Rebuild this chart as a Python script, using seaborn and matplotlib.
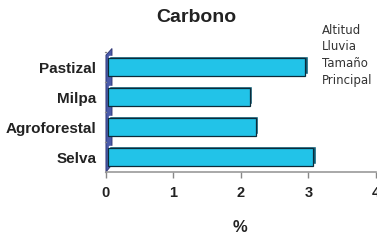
import matplotlib
matplotlib.use("Agg")
import matplotlib.pyplot as plt
import seaborn as sns
import pandas as pd
from matplotlib.patches import Polygon

categories = ["Pastizal", "Milpa", "Agroforestal", "Selva"]
values = [2.95, 2.13, 2.22, 3.07]
legend_labels = ["Altitud", "Lluvia", "Tamaño", "Principal"]
x_ticks = [0, 1, 2, 3, 4]

sns.set_style("white")
plt.rcParams['font.family'] = ['Liberation Sans', 'DejaVu Sans']

df = pd.DataFrame({"cat": categories, "val": values})

fig = plt.figure(figsize=(3.77, 2.40), dpi=100)
ax = fig.add_axes([0.281, 0.283, 0.716, 0.500])

# shadow (depth) bars
sns.barplot(data=df, x="val", y="cat", orient="h", color="#0f5f78", width=0.6,
            saturation=1, ax=ax, zorder=1)
for p in ax.patches:
    p.set_x(p.get_x() + 0.04)
    p.set_y(p.get_y() - 0.06)
n_shadow = len(ax.patches)
sns.barplot(data=df, x="val", y="cat", orient="h", color="#22c3e8", width=0.6,
            saturation=1, ax=ax, zorder=2)
for p in ax.patches[n_shadow:]:
    p.set_x(p.get_x() + 0.03)
    p.set_width(p.get_width() - 0.03)
    p.set_edgecolor("#0c2b3a")
    p.set_linewidth(0.9)

ax.set_xlim(0, 4)
ax.set_ylim(3.5, -0.5)
ax.set_xticks(x_ticks)
ax.set_xticklabels([str(t) for t in x_ticks], fontsize=10.5, fontweight="bold", color="#222222")
ax.set_yticks([0, 1, 2, 3])
ax.set_yticklabels(categories, fontsize=11, fontweight="bold", color="#222222")
ax.tick_params(axis="y", length=0, pad=7)
ax.tick_params(axis="x", length=4, color="#888888", width=1, pad=6, direction="out", bottom=True)
for yb in [-0.5, 0.5, 1.5, 2.5, 3.5]:
    ax.plot([-0.02, 0], [yb, yb], color="#888888", lw=1, clip_on=False)

for s in ["top", "right"]:
    ax.spines[s].set_visible(False)
ax.spines["bottom"].set_color("#999999")
ax.spines["bottom"].set_linewidth(1.2)
ax.spines["left"].set_visible(False)

# 3D side wall on the left
wall = Polygon([[0, 3.5], [0.09, 3.25], [0.09, -0.62], [0, -0.4]], closed=True,
               facecolor="#4a5aa8", edgecolor="#2a3070", lw=0.6, zorder=0.5, clip_on=False)
ax.add_patch(wall)

ax.set_xlabel("")
ax.set_ylabel("")
fig.text(196 / 377, 1 - 18 / 240, "Carbono", fontsize=14, fontweight="bold",
         color="#222222", ha="center", va="center")
fig.text(240 / 377, 1 - 228 / 240, "%", fontsize=12, fontweight="bold",
         color="#222222", ha="center", va="center")

for i, lab in enumerate(legend_labels):
    fig.text(322 / 377, 1 - (30 + 16.7 * i) / 240, lab, fontsize=8.5, color="#333333",
             va="center", ha="left", family=["DejaVu Sans"])

fig.savefig("out.png", dpi=100)
